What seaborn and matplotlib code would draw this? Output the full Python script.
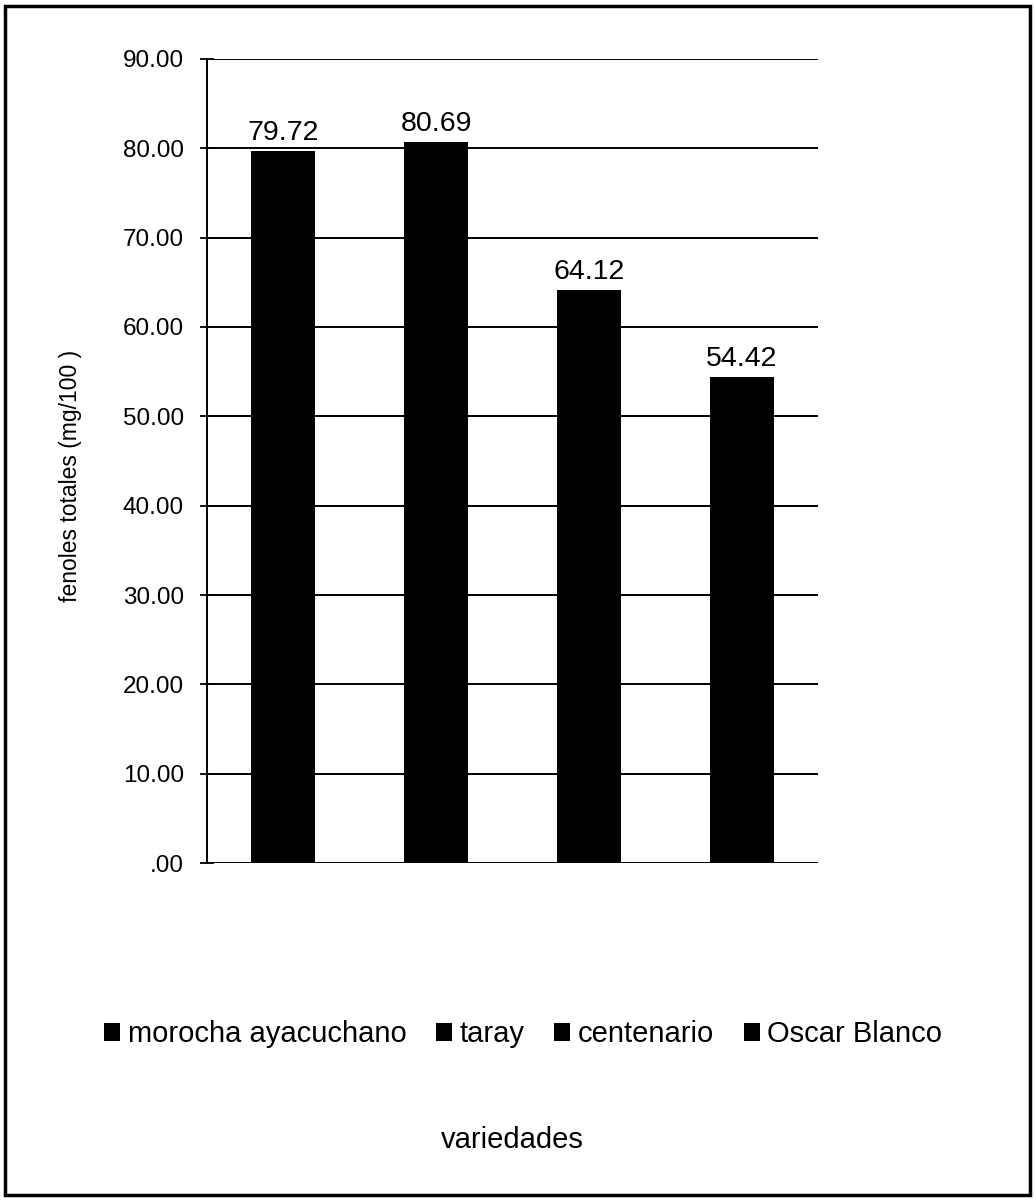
import matplotlib
matplotlib.use("Agg")
import matplotlib.pyplot as plt
from matplotlib.patches import Rectangle
from matplotlib.ticker import FuncFormatter, MultipleLocator
import seaborn as sns
import pandas as pd

# Total phenol content per variety
variedades = ["morocha ayacuchano", "taray", "centenario", "Oscar Blanco"]
fenoles = [79.72, 80.69, 64.12, 54.42]
y_ticks_step = 10.0
y_max = 90.0

sns.set_theme(style="white")
plt.rcParams["font.family"] = ["Liberation Sans", "DejaVu Sans"]
plt.rcParams.update({
    "text.color": "black",
    "axes.labelcolor": "black",
    "ytick.color": "black",
    "xtick.color": "black",
})

df = pd.DataFrame({"variedad": variedades, "fenoles": fenoles})

fig = plt.figure(figsize=(10.36, 12.01), dpi=100)
ax = fig.add_axes([0.1998, 0.2814, 0.5898, 0.6695])

sns.barplot(
    data=df, x="variedad", y="fenoles", hue="variedad",
    palette=["black"] * len(variedades), dodge=False,
    width=0.42, saturation=1, linewidth=0, ax=ax, legend=True,
)

ax.set_ylim(0, y_max)
ax.set_xlim(-0.5, len(variedades) - 0.5)
ax.yaxis.set_major_locator(MultipleLocator(y_ticks_step))


def fmt(v, _):
    s = f"{v:.2f}"
    return s[1:] if s.startswith("0") else s


ax.yaxis.set_major_formatter(FuncFormatter(fmt))
ax.set_xticks([])
ax.set_xlabel("")
ax.set_ylabel("")
ax.tick_params(axis="y", which="major", direction="inout", length=10, width=1.3,
               color="black", labelsize=17.5, pad=11.5, left=True)

ax.yaxis.grid(True, color="black", linewidth=1.4)
ax.set_axisbelow(True)
for side in ["top", "right", "bottom"]:
    ax.spines[side].set_visible(False)
ax.spines["left"].set_color("black")
ax.spines["left"].set_linewidth(1.4)

for cont in ax.containers:
    ax.bar_label(cont, fmt="%.2f", padding=3.5, fontsize=20.5)

handles, labels = ax.get_legend_handles_labels()
if ax.legend_ is not None:
    ax.legend_.remove()
fig.legend(handles, labels, loc="center", bbox_to_anchor=(0.505, 0.139),
           ncol=4, frameon=False, fontsize=21, handlelength=0.55,
           handleheight=0.6, handletextpad=0.25, columnspacing=1.02)

fig.text(70 / 1036, 1 - 476 / 1201, "fenoles totales (mg/100 )", rotation=90,
         ha="center", va="center", fontsize=16.5)
fig.text(512 / 1036, 1 - 1140 / 1201, "variedades", ha="center", va="center",
         fontsize=21)

fig.patches.append(Rectangle((0.005, 0.005), 0.989, 0.99, transform=fig.transFigure,
                             fill=False, edgecolor="black", linewidth=2.5))

fig.savefig("out.png", dpi=100, facecolor="white")
